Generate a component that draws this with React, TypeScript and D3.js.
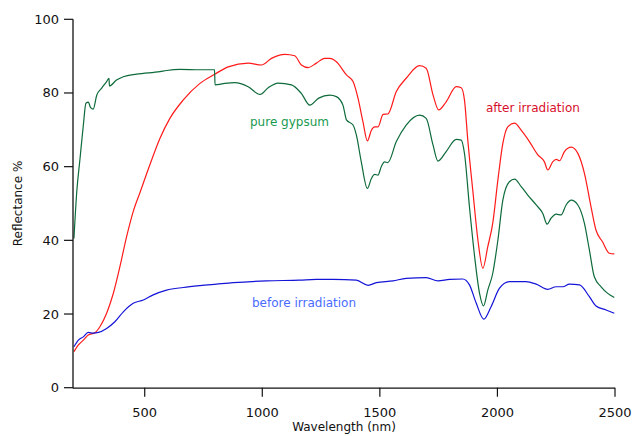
import React from "react";
import * as d3 from "d3";

const xTicks = [500, 1000, 1500, 2000, 2500];
const yTicks = [0, 20, 40, 60, 80, 100];

const gypsumWl = [199, 211, 225, 239, 250, 260, 270, 281, 296, 317, 338, 348, 350, 380, 409, 466, 565, 593, 650, 735, 797, 799, 841, 883, 940, 990, 1025, 1067, 1124, 1166, 1202, 1240, 1287, 1315, 1343, 1358, 1386, 1400, 1421, 1447, 1464, 1478, 1492, 1506, 1520, 1534, 1570, 1612, 1669, 1697, 1726, 1747, 1782, 1825, 1846, 1860, 1881, 1903, 1924, 1941, 1959, 1980, 2002, 2023, 2051, 2073, 2101, 2129, 2165, 2193, 2211, 2228, 2250, 2271, 2292, 2314, 2342, 2370, 2391, 2412, 2441, 2469, 2497];
const gypsumR = [40.5, 53.2, 62.3, 71.3, 77.2, 77.5, 76.0, 75.6, 79.4, 81.3, 83.1, 84.0, 81.9, 83.5, 84.4, 85.1, 85.8, 86.1, 86.4, 86.3, 86.3, 82.2, 82.6, 82.8, 81.7, 79.6, 81.4, 82.7, 82.2, 79.9, 76.7, 78.6, 79.4, 79.0, 76.7, 72.7, 71.3, 68.6, 61.3, 54.1, 56.8, 57.9, 57.7, 60.0, 61.3, 61.1, 66.8, 71.3, 74.0, 73.1, 65.9, 61.5, 64.1, 67.4, 67.2, 63.5, 49.1, 35.6, 25.6, 22.2, 26.5, 31.0, 40.1, 50.9, 55.9, 56.6, 54.6, 52.3, 49.6, 47.3, 44.4, 46.0, 47.1, 46.9, 49.6, 50.9, 49.6, 44.6, 37.4, 30.1, 27.4, 25.6, 24.5];

const afterWl = [199, 218, 239, 260, 288, 310, 338, 366, 395, 423, 451, 480, 522, 565, 607, 664, 735, 798, 855, 940, 997, 1039, 1096, 1138, 1166, 1195, 1230, 1265, 1287, 1315, 1358, 1386, 1407, 1428, 1447, 1464, 1478, 1492, 1514, 1534, 1570, 1612, 1669, 1697, 1726, 1750, 1782, 1825, 1846, 1860, 1874, 1895, 1917, 1938, 1959, 1980, 2002, 2023, 2044, 2073, 2101, 2136, 2172, 2200, 2214, 2235, 2250, 2264, 2285, 2314, 2342, 2370, 2398, 2419, 2447, 2476, 2497];
const afterR = [9.8, 11.6, 12.9, 14.3, 14.9, 16.6, 20.2, 25.5, 33.0, 41.0, 47.8, 53.0, 60.5, 67.7, 73.1, 78.1, 82.6, 85.1, 87.1, 88.1, 87.6, 89.4, 90.5, 90.1, 87.6, 86.9, 88.1, 89.4, 89.4, 88.5, 84.9, 83.1, 78.6, 72.2, 67.0, 69.9, 70.8, 70.8, 74.2, 74.3, 80.4, 84.0, 87.4, 86.7, 79.5, 75.4, 77.6, 81.7, 81.4, 78.0, 67.2, 53.7, 40.1, 32.4, 38.3, 44.6, 56.4, 66.3, 70.8, 71.8, 69.9, 66.8, 63.2, 61.3, 59.1, 61.3, 62.0, 61.6, 64.1, 65.3, 63.6, 58.2, 49.1, 42.8, 39.6, 36.5, 36.3];

const beforeWl = [199, 218, 239, 260, 281, 303, 338, 373, 409, 451, 494, 536, 593, 664, 735, 805, 876, 1018, 1159, 1230, 1301, 1400, 1450, 1485, 1556, 1612, 1697, 1747, 1797, 1853, 1881, 1910, 1942, 1973, 2009, 2051, 2122, 2165, 2214, 2250, 2278, 2306, 2349, 2391, 2419, 2462, 2497];
const beforeR = [11.1, 12.9, 13.8, 15.0, 14.8, 15.0, 16.1, 17.9, 20.6, 22.9, 23.8, 25.2, 26.5, 27.2, 27.7, 28.1, 28.5, 29.0, 29.2, 29.4, 29.4, 29.2, 27.8, 28.5, 29.0, 29.7, 29.9, 29.0, 29.4, 29.5, 27.9, 22.9, 18.6, 22.0, 27.0, 28.8, 28.8, 28.1, 26.7, 27.4, 27.4, 28.1, 27.9, 24.7, 22.2, 21.1, 20.2];

const W = 633;
const H = 436;
const left = 73;
const right = 615;
const top = 19.3;
const bottom = 387.7;

export default function App() {
  const x = d3.scaleLinear().domain([195, 2500]).range([left, right]);
  const y = d3.scaleLinear().domain([0, 100]).range([bottom, top]);
  const line = d3
    .line<[number, number]>()
    .x((d) => x(d[0]))
    .y((d) => y(d[1]))
    .curve(d3.curveMonotoneX);
  const zip = (a: number[], b: number[]) => a.map((v, i) => [v, b[i]] as [number, number]);
  const font = "'DejaVu Sans', Verdana, sans-serif";
  return (
    <svg
      width={W}
      height={H}
      style={{ position: "absolute", left: 0, top: 0, background: "#fff" }}
      fontFamily={font}
    >
      <path d={line(zip(afterWl, afterR)) || ""} fill="none" stroke="#ff1a1a" strokeWidth={1.2} />
      <path d={line(zip(gypsumWl, gypsumR)) || ""} fill="none" stroke="#0d6a3a" strokeWidth={1.2} />
      <path d={line(zip(beforeWl, beforeR)) || ""} fill="none" stroke="#1414d8" strokeWidth={1.2} />
      {/* axes */}
      <line x1={left} x2={left} y1={y(100)} y2={bottom + 0.5} stroke="#111" strokeWidth={1.3} />
      <line x1={left} x2={x(2500)} y1={bottom + 0.5} y2={bottom + 0.5} stroke="#111" strokeWidth={1.3} />
      {yTicks.map((t) => (
        <g key={"y" + t}>
          <line x1={left - 9} x2={left} y1={y(t)} y2={y(t)} stroke="#111" strokeWidth={1.2} />
          <text x={left - 14} y={y(t) + 4.5} textAnchor="end" fontSize={13} fill="#111">
            {t}
          </text>
        </g>
      ))}
      {xTicks.map((t) => (
        <g key={"x" + t}>
          <line x1={x(t)} x2={x(t)} y1={bottom} y2={bottom + 9} stroke="#111" strokeWidth={1.2} />
          <text x={x(t)} y={416.5} textAnchor="middle" fontSize={13} fill="#111">
            {t}
          </text>
        </g>
      ))}
      <text x={(left + right) / 2} y={431} textAnchor="middle" fontSize={12} fill="#111">
        Wavelength (nm)
      </text>
      <text
        transform={`translate(22, ${(top + bottom) / 2}) rotate(-90)`}
        textAnchor="middle"
        fontSize={12}
        fill="#111"
      >
        Reflectance %
      </text>
      <text x={250} y={126} fontSize={12} fill="#1a9a50">pure gypsum</text>
      <text x={486} y={112} fontSize={12} fill="#d8102a">after irradiation</text>
      <text x={252} y={307} fontSize={12} fill="#4a6bff">before irradiation</text>
    </svg>
  );
}
